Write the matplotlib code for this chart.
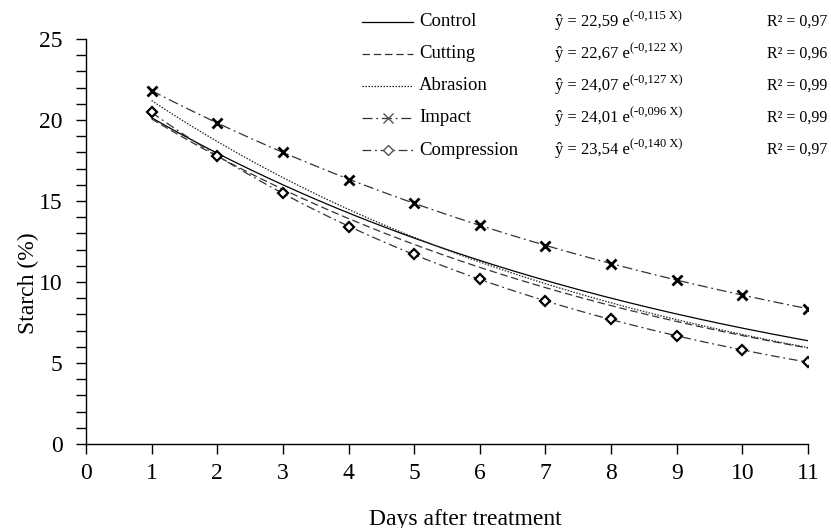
import numpy as np
import matplotlib
matplotlib.use("Agg")
import matplotlib.pyplot as plt
from matplotlib.lines import Line2D
from matplotlib.ticker import MultipleLocator

plt.rcParams['font.family'] = ['Liberation Serif', 'DejaVu Serif']

# Data
treatments = ["Control", "Cutting", "Abrasion", "Impact", "Compression"]
coef_a = [22.59, 22.67, 24.07, 24.01, 23.54]
coef_b = [-0.115, -0.122, -0.127, -0.096, -0.140]
eq_labels = ["22,59", "22,67", "24,07", "24,01", "23,54"]
exp_labels = ["-0,115", "-0,122", "-0,127", "-0,096", "-0,140"]
r2_labels = ["0,97", "0,96", "0,99", "0,99", "0,97"]

days = [1, 2, 3, 4, 5, 6, 7, 8, 9, 10, 11]
impact_obs = [21.8, 19.8, 18.0, 16.3, 14.9, 13.5, 12.2, 11.1, 10.1, 9.2, 8.35]
compression_obs = [20.5, 17.8, 15.5, 13.4, 11.7, 10.2, 8.85, 7.7, 6.65, 5.8, 5.05]

W, H = 831, 528
fig = plt.figure(figsize=(W / 100, H / 100), dpi=100)
ax = fig.add_axes([86 / W, 1 - 444 / H, (808 - 86) / W, (444 - 39) / H])

styles = [
    dict(color='black', lw=0.9, ls='-'),
    dict(color='#333333', lw=0.9, ls=(0, (6, 3))),
    dict(color='#222222', lw=0.9, ls=(0, (1.2, 1.2))),
    dict(color='#333333', lw=0.9, ls=(0, (8, 3, 1.5, 3))),
    dict(color='#333333', lw=0.9, ls=(0, (7, 3, 1.5, 3))),
]

xs = np.linspace(1, 11, 200)
for a, b, st in zip(coef_a, coef_b, styles):
    ax.plot(xs, a * np.exp(b * xs), **st)

ax.plot(days, impact_obs, ls='none', marker='x', ms=7, mew=2, color='black')
ax.plot(days, compression_obs, ls='none', marker='D', ms=5.5, mew=1.6,
        mfc='white', mec='black')

ax.set_xlim(0, 11)
ax.set_ylim(0, 25)
ax.set_xticks(range(0, 12))
ax.set_yticks(range(0, 26, 5))
ax.yaxis.set_minor_locator(MultipleLocator(1))
for s in ['top', 'right']:
    ax.spines[s].set_visible(False)
for s in ['left', 'bottom']:
    ax.spines[s].set_linewidth(1.0)
ax.tick_params(axis='both', which='major', direction='out', length=7, width=1,
               labelsize=17, pad=10)
ax.tick_params(axis='y', which='minor', direction='out', length=7, width=1)
ax.tick_params(axis='x', pad=7)

fig.text(28 / W, 1 - 283 / H, "Starch (%)", rotation=90, ha='center', va='center',
         fontsize=17)
fig.text(465 / W, 1 - 519 / H, "Days after treatment", ha='center', va='center',
         fontsize=17)

# Legend drawn manually
rows_y = [22, 54, 86, 118, 150]
fig.canvas.draw()
renderer = fig.canvas.get_renderer()
for i, (name, st) in enumerate(zip(treatments, styles)):
    yy = 1 - rows_y[i] / H
    fig.add_artist(Line2D([362 / W, 413 / W], [yy, yy], transform=fig.transFigure,
                          **st))
    if name == "Impact":
        fig.add_artist(Line2D([388 / W], [yy], transform=fig.transFigure, ls='none',
                              marker='x', ms=7, mew=1, color='#555555'))
    if name == "Compression":
        fig.add_artist(Line2D([388 / W], [yy], transform=fig.transFigure, ls='none',
                              marker='D', ms=5, mew=1, mfc='white', mec='#555555'))
    fig.text(419 / W, yy, name, ha='left', va='center', fontsize=13.5)
    base = fig.text(555 / W, yy, "ŷ = " + eq_labels[i] + " e",
                    ha='left', va='center', fontsize=12)
    bb = base.get_window_extent(renderer)
    fig.text((bb.x1 + 0.5) / W, yy + 6 / H, "(" + exp_labels[i] + " X)",
             ha='left', va='center', fontsize=9)
    fig.text(767 / W, yy, "R² = " + r2_labels[i], ha='left', va='center',
             fontsize=11.5)

fig.savefig("out.png", dpi=100)
